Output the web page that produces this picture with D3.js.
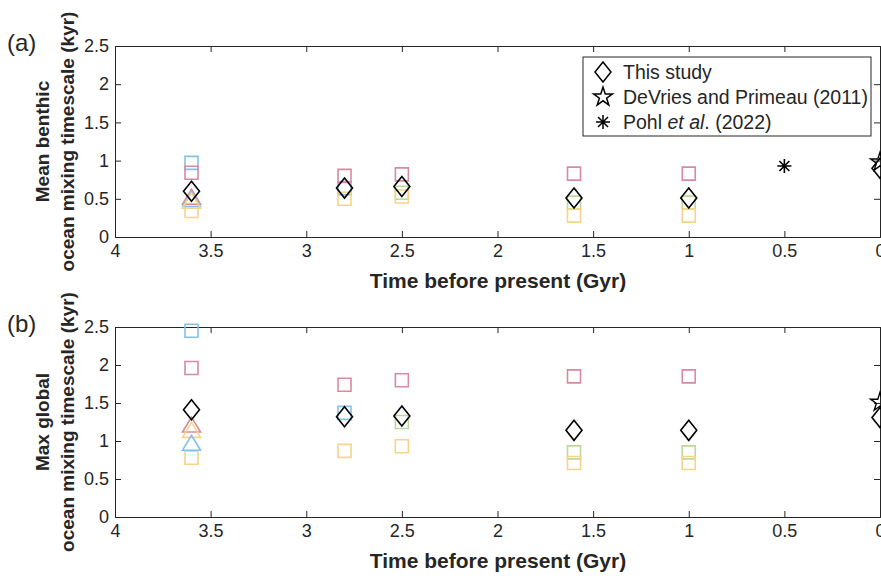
<!DOCTYPE html>
<html>
<head>
<meta charset="utf-8">
<script src="https://cdn.jsdelivr.net/npm/d3@7"></script>
<style>
  body { margin: 0; background: #fff; }
  text { font-family: "Liberation Sans", Arial, sans-serif; fill: #262626; }
</style>
</head>
<body>
<svg id="drawing_region"></svg>
<script>
// ages of the model snapshots (Gyr before present)
const ages = [3.6, 2.8, 2.5, 1.6, 1.0];
const studyAges = [3.6, 2.8, 2.5, 1.6, 1.0, 0];
const xTicks = [4, 3.5, 3, 2.5, 2, 1.5, 1, 0.5, 0];
const yTicks = [0, 0.5, 1, 1.5, 2, 2.5];

// panel (a): mean benthic ocean mixing timescale (kyr)
const sqBlueA   = [0.97, 0.64, null, null, null];
const sqPinkA   = [0.84, 0.80, 0.82, 0.83, 0.83];
const sqGreenA  = [null, null, 0.58, 0.45, 0.45];
const sqYellowA = [0.34, 0.50, 0.53, 0.28, 0.28];
const triPinkA   = [0.52, null, null, null, null];
const triBlueA   = [0.49, null, null, null, null];
const triYellowA = [0.47, null, null, null, null];
const studyA = [0.60, 0.64, 0.66, 0.51, 0.51, 0.90];
const devriesA = 0.98;
const pohlA = 0.93;

// panel (b): max global ocean mixing timescale (kyr)
const sqBlueB   = [2.45, 1.37, null, null, null];
const sqPinkB   = [1.96, 1.74, 1.80, 1.85, 1.85];
const sqGreenB  = [null, null, 1.25, 0.85, 0.85];
const sqYellowB = [0.78, 0.87, 0.93, 0.71, 0.71];
const triPinkB   = [1.21, null, null, null, null];
const triYellowB = [1.14, null, null, null, null];
const triBlueB   = [0.97, null, null, null, null];
const studyB = [1.41, 1.32, 1.33, 1.14, 1.14, 1.31];
const devriesB = 1.51;

const colors = { blue: '#86c1e8', pink: '#d98aa0', green: '#bcd99a', yellow: '#f6d488' };

const svg = d3.select('#drawing_region')
    .attr('width', 881)
    .attr('height', 578);

const x = d3.scaleLinear().domain([4, 0]).range([115, 880]);

const squarePath = 'M-6.5,-6.5H6.5V6.5H-6.5Z';
const trianglePath = 'M0,-8L9,7H-9Z';
const diamondPath = 'M0,-10L8,0L0,10L-8,0Z';
const starPath = d3.symbol().type(d3.symbolStar).size(110)();
const asteriskPath = 'M0,-7V7M-7,0H7M-5,-5L5,5M-5,5L5,-5';

function drawPanel(top, bottom, label, titleLines, squares, triangles, study, devries, pohl) {
    const y = d3.scaleLinear().domain([0, 2.5]).range([bottom, top]);
    const g = svg.append('g');

    // box axes with inward ticks
    const ax = g.append('g');
    ax.append('g').attr('transform', `translate(0,${bottom})`)
        .call(d3.axisBottom(x).tickValues(xTicks).tickSize(-6).tickPadding(7).tickFormat(d3.format('')));
    ax.append('g').attr('transform', `translate(0,${top})`)
        .call(d3.axisTop(x).tickValues(xTicks).tickSize(-6).tickFormat(''));
    ax.append('g').attr('transform', `translate(115,0)`)
        .call(d3.axisLeft(y).tickValues(yTicks).tickSize(-6).tickPadding(6).tickFormat(d3.format('')));
    ax.append('g').attr('transform', `translate(880,0)`)
        .call(d3.axisRight(y).tickValues(yTicks).tickSize(-6).tickFormat(''));
    ax.selectAll('.domain').attr('stroke', '#262626').attr('stroke-width', 1);
    ax.selectAll('.tick line').attr('stroke', '#262626');
    ax.selectAll('.tick text').style('font-size', '18px').attr('fill', '#262626');

    // colored squares
    squares.forEach(s => {
        g.selectAll(null)
            .data(ages.map((a, i) => ({ a: a, v: s.values[i] })).filter(d => d.v !== null))
            .enter().append('path')
            .attr('d', squarePath)
            .attr('transform', d => `translate(${x(d.a)},${y(d.v)})`)
            .attr('fill', 'none').attr('stroke', colors[s.color]).attr('stroke-width', 1.6);
    });
    // colored triangles
    triangles.forEach(s => {
        g.selectAll(null)
            .data(ages.map((a, i) => ({ a: a, v: s.values[i] })).filter(d => d.v !== null))
            .enter().append('path')
            .attr('d', trianglePath)
            .attr('transform', d => `translate(${x(d.a)},${y(d.v)})`)
            .attr('fill', 'none').attr('stroke', colors[s.color]).attr('stroke-width', 1.6);
    });
    // this study
    g.selectAll(null)
        .data(studyAges.map((a, i) => ({ a: a, v: study[i] })))
        .enter().append('path')
        .attr('d', diamondPath)
        .attr('transform', d => `translate(${x(d.a)},${y(d.v)})`)
        .attr('fill', 'none').attr('stroke', '#000').attr('stroke-width', 1.6);
    // DeVries and Primeau
    g.append('path')
        .attr('d', starPath)
        .attr('transform', `translate(${x(0)},${y(devries)})`)
        .attr('fill', 'none').attr('stroke', '#000').attr('stroke-width', 1.4);
    // Pohl et al.
    if (pohl !== null) {
        g.append('path')
            .attr('d', asteriskPath)
            .attr('transform', `translate(${x(0.5)},${y(pohl)})`)
            .attr('fill', 'none').attr('stroke', '#000').attr('stroke-width', 1.6);
    }

    // axis titles
    g.append('text')
        .attr('x', 498).attr('y', bottom + 51)
        .attr('text-anchor', 'middle')
        .style('font-size', '21px').style('font-weight', 'bold')
        .text('Time before present (Gyr)');
    const cy = (top + bottom) / 2;
    titleLines.forEach((t, i) => {
        g.append('text')
            .attr('transform', `translate(${49 + i * 25},${cy}) rotate(-90)`)
            .attr('text-anchor', 'middle')
            .style('font-size', '19px').style('font-weight', 'bold')
            .text(t);
    });
    g.append('text')
        .attr('x', 7).attr('y', top + 5)
        .style('font-size', '24px')
        .text(label);
}

drawPanel(46, 237, '(a)', ['Mean benthic', 'ocean mixing timescale (kyr)'],
    [{ color: 'blue', values: sqBlueA }, { color: 'pink', values: sqPinkA },
     { color: 'green', values: sqGreenA }, { color: 'yellow', values: sqYellowA }],
    [{ color: 'pink', values: triPinkA }, { color: 'blue', values: triBlueA },
     { color: 'yellow', values: triYellowA }],
    studyA, devriesA, pohlA);

drawPanel(327, 517, '(b)', ['Max global', 'ocean mixing timescale (kyr)'],
    [{ color: 'blue', values: sqBlueB }, { color: 'pink', values: sqPinkB },
     { color: 'green', values: sqGreenB }, { color: 'yellow', values: sqYellowB }],
    [{ color: 'pink', values: triPinkB }, { color: 'yellow', values: triYellowB },
     { color: 'blue', values: triBlueB }],
    studyB, devriesB, null);

// legend
const legend = svg.append('g').attr('transform', 'translate(583,57)');
legend.append('rect')
    .attr('width', 288).attr('height', 79)
    .attr('fill', '#fff').attr('stroke', '#262626').attr('stroke-width', 1);
const legendItems = [
    { path: diamondPath, label: ['This study'] },
    { path: starPath, label: ['DeVries and Primeau (2011)'] },
    { path: asteriskPath, label: ['Pohl ', 'et al', '. (2022)'] }
];
legendItems.forEach((d, i) => {
    const row = legend.append('g').attr('transform', `translate(20,${15 + i * 25})`);
    row.append('path').attr('d', d.path)
        .attr('fill', 'none').attr('stroke', '#000').attr('stroke-width', 1.5);
    const t = row.append('text').attr('x', 20).attr('y', 7).style('font-size', '19.5px');
    d.label.forEach((s, j) => {
        t.append('tspan').style('font-style', j === 1 ? 'italic' : 'normal').text(s);
    });
});
</script>
</body>
</html>
